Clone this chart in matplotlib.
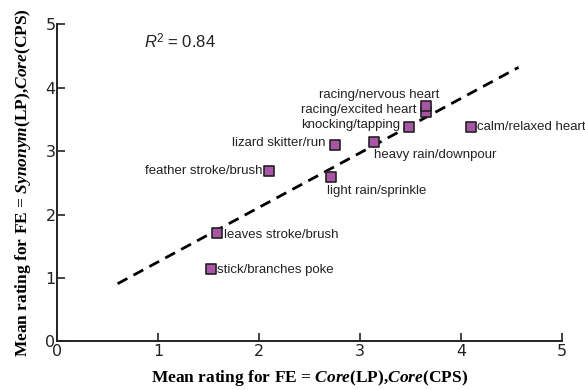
import matplotlib.pyplot as plt

# mean ratings, FE = Core(LP),Core(CPS) vs Synonym(LP),Core(CPS)
labels = ['stick/branches poke', 'leaves stroke/brush', 'feather stroke/brush',
          'light rain/sprinkle', 'lizard skitter/run', 'heavy rain/downpour',
          'knocking/tapping', 'racing/excited heart', 'racing/nervous heart',
          'calm/relaxed heart']
core_x = [1.52, 1.58, 2.10, 2.71, 2.75, 3.14, 3.49, 3.65, 3.65, 4.10]
synonym_y = [1.14, 1.71, 2.69, 2.59, 3.09, 3.15, 3.38, 3.61, 3.71, 3.38]

# regression line end points
fit_x = [0.60, 4.57]
fit_y = [0.91, 4.32]
r_squared = 0.84

# label offsets in points (dx, dy, ha)
offsets = [(5, -0.7, 'left'), (5.5, -1.5, 'left'), (-5, 0, 'right'),
           (-3, -10, 'left'), (-7, 1.5, 'right'), (0, -10, 'left'),
           (-7, 1.5, 'right'), (-6.5, 1.5, 'right'), (10, 8, 'right'),
           (4, 0, 'left')]

plt.rcParams['mathtext.fontset'] = 'custom'
plt.rcParams['mathtext.rm'] = 'Liberation Serif:bold'
plt.rcParams['mathtext.it'] = 'Liberation Serif:italic:bold'
plt.rcParams['mathtext.bf'] = 'Liberation Serif:bold'
plt.rcParams['mathtext.sf'] = 'Liberation Sans:italic'
plt.rcParams['mathtext.tt'] = 'Liberation Sans'

fig = plt.figure(figsize=(5.85, 3.9), dpi=100)
ax = fig.add_axes([0.0974, 0.1244, 0.8633, 0.8136])

ax.plot(fit_x, fit_y, color='black', linestyle=(0, (4, 2.5)), linewidth=2, zorder=1)
ax.scatter(core_x, synonym_y, marker='s', s=50, facecolor='#a855a8',
           edgecolor='#222222', linewidth=1.2, zorder=3)

for x, y, name, (dx, dy, ha) in zip(core_x, synonym_y, labels, offsets):
    ax.annotate(name, (x, y), xytext=(dx, dy), textcoords='offset points',
                ha=ha, va='center', fontsize=9.5, family='Liberation Sans',
                color='#222222', annotation_clip=False)

ax.text(0.86, 4.72, r'$\mathsf{R}^{\mathtt{2}}$' + ' = %.2f' % r_squared, fontsize=12,
        family='Liberation Sans', va='center', color='#222222')

ax.set_xlim(0, 5)
ax.set_ylim(0, 5)
ax.set_xticks([0, 1, 2, 3, 4, 5])
ax.set_yticks([0, 1, 2, 3, 4, 5])
ax.tick_params(direction='in', length=6, width=1.2, labelsize=11.5, colors='#222222')
for lab in ax.get_xticklabels() + ax.get_yticklabels():
    lab.set_family('DejaVu Sans')
ax.tick_params(axis='x', pad=2)
ax.tick_params(axis='y', pad=1)

for side in ['top', 'right']:
    ax.spines[side].set_visible(False)
for side in ['left', 'bottom']:
    ax.spines[side].set_linewidth(1.4)
    ax.spines[side].set_color('#222222')

ax.set_xlabel(r'Mean rating for FE = $\mathit{Core}$(LP),$\mathit{Core}$(CPS)',
              fontsize=12.5, family='Liberation Serif', fontweight='bold', labelpad=6)
ax.set_ylabel(r'Mean rating for FE = $\mathit{Synonym}$(LP),$\mathit{Core}$(CPS)',
              fontsize=12.5, family='Liberation Serif', fontweight='bold', labelpad=9)

fig.savefig('out.png', dpi=100)
